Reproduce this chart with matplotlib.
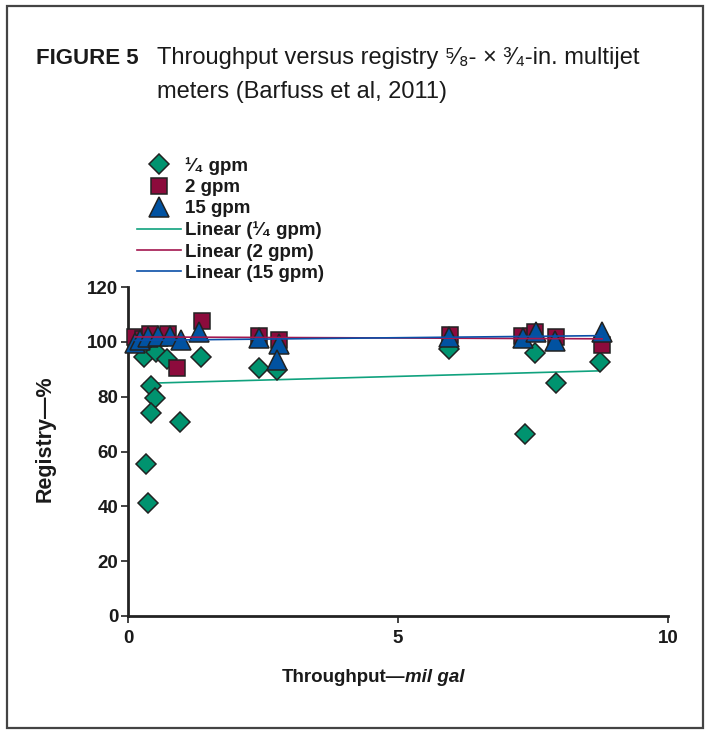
import matplotlib
matplotlib.use("Agg")
import matplotlib.pyplot as plt
import numpy as np
from matplotlib.patches import Rectangle
from matplotlib.lines import Line2D

# ---- data ----
x_q = [0.30, 0.52, 0.72, 1.35, 0.43, 0.50, 0.43, 0.96, 0.33, 0.37, 2.43, 2.76, 5.94, 7.35, 7.54, 7.93, 8.74]
y_q = [94.5, 96.3, 93.7, 94.5, 84.0, 79.5, 74.0, 70.8, 55.4, 41.2, 90.4, 89.7, 97.4, 66.4, 95.9, 85.0, 92.6]

x_2 = [0.13, 0.28, 0.41, 0.74, 0.91, 1.37, 2.43, 2.80, 5.96, 7.30, 7.54, 7.93, 8.78]
y_2 = [101.7, 101.0, 103.0, 103.0, 90.4, 107.5, 102.0, 100.7, 102.5, 102.0, 103.6, 101.8, 98.8]

x_15 = [0.13, 0.22, 0.37, 0.56, 0.78, 0.98, 1.31, 2.43, 2.80, 2.76, 5.94, 7.31, 7.56, 7.91, 8.78]
y_15 = [99.6, 100.6, 101.7, 102.0, 102.0, 100.6, 103.6, 101.4, 99.2, 93.4, 101.8, 101.4, 103.6, 100.3, 103.6]

# linear trend coefficients (intercept, slope)
trend_q = (84.7, 0.54)
trend_2 = (101.8, -0.08)
trend_15 = (100.5, 0.20)

labels = ["\u00b9\u2044\u2084 gpm", "2 gpm", "15 gpm",
          "Linear (\u00b9\u2044\u2084 gpm)", "Linear (2 gpm)", "Linear (15 gpm)"]
x_ticks = [0, 5, 10]
y_ticks = [0, 20, 40, 60, 80, 100, 120]

c_green = "#00936F"
c_red = "#8C0B3C"
c_blue = "#0152A1"
c_green_l = "#10A27E"
c_red_l = "#A3174F"
c_blue_l = "#0A4FA8"
edge = "#222222"

fam = ["Liberation Sans", "DejaVu Sans"]
plt.rcParams["font.family"] = fam

fig = plt.figure(figsize=(7.1, 7.3), dpi=100)
W, H = 710, 730

# outer border
fig.patches.append(Rectangle((7 / W, 2 / H), 696 / W, 722 / H, transform=fig.transFigure,
                             fill=False, edgecolor="#444444", linewidth=1.6))

# title
tfam = ["Liberation Sans Narrow", "Liberation Sans", "DejaVu Sans"]
fig.text(36 / W, 1 - 58 / H, "FIGURE 5", fontsize=16, fontweight="bold",
         family=tfam, va="center", ha="left", color="#1a1a1a")
fig.text(157 / W, 1 - 58 / H,
         "Throughput versus registry \u2075\u2044\u2088- \u00d7 \u00b3\u2044\u2084-in. multijet",
         fontsize=17, family=tfam, va="center", ha="left", color="#1a1a1a")
fig.text(157 / W, 1 - 92 / H, "meters (Barfuss et al, 2011)",
         fontsize=17, family=tfam, va="center", ha="left", color="#1a1a1a")

ax = fig.add_axes([128 / W, (730 - 616) / H, 540 / W, 329 / H])

mk = dict(linestyle="none", markeredgecolor=edge, markeredgewidth=1.1)
ax.plot(x_q, y_q, marker="D", markersize=10.5, markerfacecolor=c_green, zorder=3, clip_on=False, **mk)
ax.plot(x_2, y_2, marker="s", markersize=11.5, markerfacecolor=c_red, zorder=4, clip_on=False, **mk)
ax.plot(x_15, y_15, marker="^", markersize=14, markerfacecolor=c_blue, zorder=5, clip_on=False, **mk)

def trend(xs, coef):
    xx = np.array([min(xs), max(xs)])
    return xx, coef[0] + coef[1] * xx

xx, yy = trend(x_q, trend_q)
ax.plot(xx, yy, color=c_green_l, lw=1.2, zorder=2.5)
xx, yy = trend(x_2, trend_2)
ax.plot(xx, yy, color=c_red_l, lw=1.2, zorder=6)
xx, yy = trend(x_15, trend_15)
ax.plot(xx, yy, color=c_blue_l, lw=1.2, zorder=6)

ax.set_xlim(0, 10)
ax.set_ylim(0, 120)
ax.set_xticks(x_ticks)
ax.set_yticks(y_ticks)
for s in ["top", "right"]:
    ax.spines[s].set_visible(False)
for s in ["left", "bottom"]:
    ax.spines[s].set_linewidth(2.0)
    ax.spines[s].set_color("#222222")
ax.tick_params(direction="out", length=5, width=1.2, colors="#222222", labelsize=13.5)
ax.tick_params(axis="x", pad=5)
ax.tick_params(axis="y", pad=2)
for lab in ax.get_xticklabels() + ax.get_yticklabels():
    lab.set_fontweight("bold")
    lab.set_color("#1a1a1a")

fig.text(405 / W, 1 - 678 / H, "Throughput\u2014", fontsize=13.5, fontweight="bold",
         ha="right", va="center", color="#1a1a1a")
fig.text(405 / W, 1 - 678 / H, "mil gal", fontsize=13.5, fontweight="bold", style="italic",
         ha="left", va="center", color="#1a1a1a")
fig.text(45 / W, 1 - 439 / H, "Registry\u2014%", fontsize=15.5, fontweight="bold",
         rotation=90, ha="center", va="center", color="#1a1a1a")

handles = [
    Line2D([], [], marker="D", markersize=10.5, markerfacecolor=c_green, **mk),
    Line2D([], [], marker="s", markersize=11.5, markerfacecolor=c_red, **mk),
    Line2D([], [], marker="^", markersize=14, markerfacecolor=c_blue, **mk),
    Line2D([], [], color=c_green_l, lw=1.2),
    Line2D([], [], color=c_red_l, lw=1.2),
    Line2D([], [], color=c_blue_l, lw=1.2),
]
leg = fig.legend(handles, labels, loc="upper left", bbox_to_anchor=(137 / W, 1 - 157 / H),
                 frameon=False, prop=dict(size=13.5, weight="bold"), handlelength=2.35,
                 handletextpad=0.2, labelspacing=0.22, borderaxespad=0, borderpad=0)
for t in leg.get_texts():
    t.set_color("#1a1a1a")

fig.savefig("out.png", dpi=100)
